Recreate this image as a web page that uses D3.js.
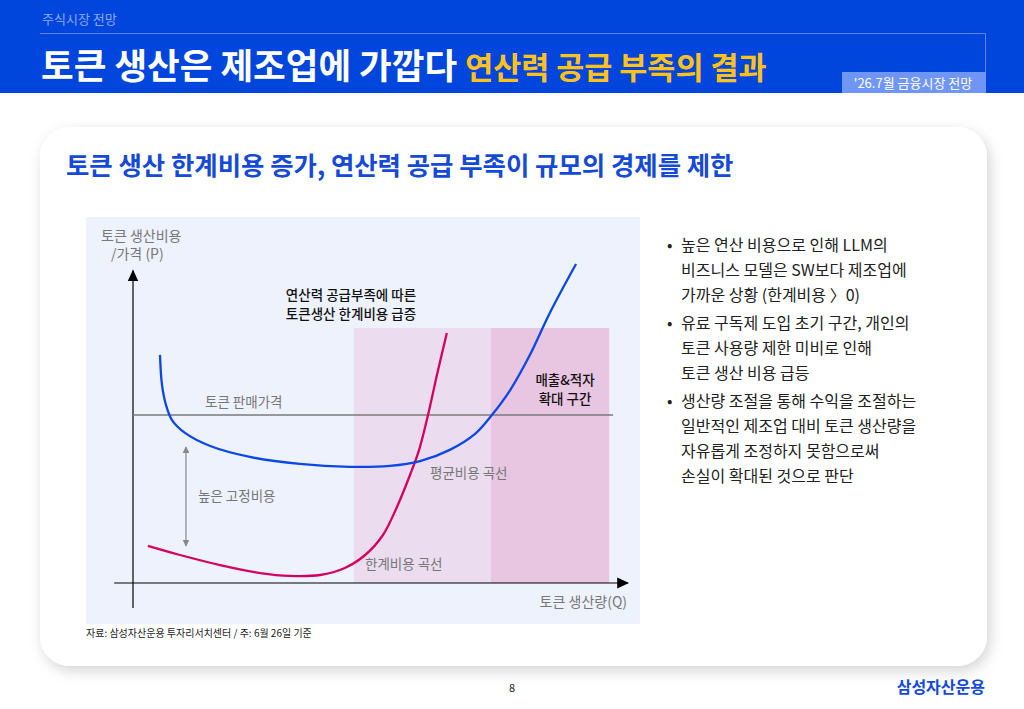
<!DOCTYPE html>
<html><head><meta charset="utf-8">
<script src="https://cdn.jsdelivr.net/npm/d3@7"></script>
<style>
html,body{margin:0;padding:0;background:#fff;}
svg{display:block;font-family:"Noto Sans CJK KR","Noto Sans",sans-serif;}
</style></head>
<body><svg id="c" width="1024" height="709"></svg>
<script>
// ---- data ----
const avgCost = [[5.45,71.3],[5.86,61.9],[6.67,55.6],[7.88,50.9],[10.5,46.9],[15.6,42.8],[23.6,39.4],[33.7,37.2],[43.8,36.3],[51.9,36.6],[58.0,38.1],[64.0,41.6],[69.1,46.6],[72.5,52.5],[76.2,60.3],[80.2,71.3],[84.2,84.4],[89.5,99.7]];
const marginalCost = [[3.0,11.6],[9.5,8.75],[17.6,5.6],[25.7,3.1],[31.7,2.2],[37.8,2.5],[42.8,4.7],[46.9,8.75],[50.5,15],[53.5,24.4],[55.96,33.75],[57.8,41.6],[59.6,52.5],[61.4,65],[63.4,78.1]];
const sellPrice = 52.5;
const zones = [{q0:44.6,q1:72.3,top:79.7},{q0:72.3,q1:96.2,top:79.7}];
const fixedCostArrow = {q:10.7,p0:42.5,p1:11.6};
const bullets = [
  ["높은 연산 비용으로 인해 LLM의","비즈니스 모델은 SW보다 제조업에","가까운 상황 (한계비용 〉0)"],
  ["유료 구독제 도입 초기 구간, 개인의","토큰 사용량 제한 미비로 인해","토큰 생산 비용 급등"],
  ["생산량 조절을 통해 수익을 조절하는","일반적인 제조업 대비 토큰 생산량을","자유롭게 조정하지 못함으로써","손실이 확대된 것으로 판단"]
];

const svg = d3.select("#c");
const defs = svg.append("defs");
const f = defs.append("filter").attr("id","sh").attr("x","-5%").attr("y","-5%").attr("width","112%").attr("height","115%");
f.append("feDropShadow").attr("dx",3).attr("dy",5).attr("stdDeviation",7).attr("flood-color","#000").attr("flood-opacity",0.17);
const mk = (id,col)=>defs.append("marker").attr("id",id).attr("viewBox","0 0 10 10").attr("refX",9).attr("refY",5)
  .attr("markerWidth",7).attr("markerHeight",7).attr("orient","auto-start-reverse").attr("markerUnits","userSpaceOnUse")
  .append("path").attr("d","M0,0L10,5L0,10z").attr("fill",col);
defs.append("marker").attr("id","ax").attr("viewBox","0 0 10 10").attr("refX",9).attr("refY",5)
  .attr("markerWidth",12).attr("markerHeight",12).attr("orient","auto").attr("markerUnits","userSpaceOnUse")
  .append("path").attr("d","M0,0.5L10,5L0,9.5z").attr("fill","#000");
mk("ga","#888");

// header
svg.append("rect").attr("x",0).attr("y",0).attr("width",1024).attr("height",93).attr("fill","#0046dd");
svg.append("text").attr("x",42).attr("y",24).attr("fill","#8ea9f2").attr("font-size",13).text("주식시장 전망");
svg.append("path").attr("d","M40,33.5H985.5V72").attr("fill","none").attr("stroke","#5a82f0").attr("stroke-width",1);
svg.append("rect").attr("x",842).attr("y",72).attr("width",144).attr("height",21).attr("fill","#6f95f5");
svg.append("text").attr("x",913).attr("y",88).attr("text-anchor","middle").attr("fill","#fff").attr("font-size",13).text("'26.7월 금융시장 전망");
const tt = svg.append("text").attr("x",41).attr("y",79).attr("font-weight",700);
tt.append("tspan").attr("fill","#fff").attr("font-size",35.5).text("토큰 생산은 제조업에 가깝다 ");
tt.append("tspan").attr("fill","#ffc21a").attr("font-size",30.5).text("연산력 공급 부족의 결과");

// card
svg.append("rect").attr("x",40).attr("y",127).attr("width",947).attr("height",539).attr("rx",30).attr("fill","#fff").attr("filter","url(#sh)");
svg.append("text").attr("x",66).attr("y",175).attr("fill","#1549d8").attr("font-size",25.4).attr("font-weight",700)
  .text("토큰 생산 한계비용 증가, 연산력 공급 부족이 규모의 경제를 제한");

// chart panel
svg.append("rect").attr("x",86).attr("y",217).attr("width",554).attr("height",407).attr("fill","#eef2fd");
const x = d3.scaleLinear().domain([0,100]).range([133,628]);
const y = d3.scaleLinear().domain([0,100]).range([583,263]);
const zc = ["#ecdcef","#e8c5e0"];
svg.selectAll(".z").data(zones).join("rect").attr("x",d=>x(d.q0)).attr("width",d=>x(d.q1)-x(d.q0))
  .attr("y",d=>y(d.top)).attr("height",d=>y(0)-y(d.top)).attr("fill",(d,i)=>zc[i]);

// axes
svg.append("line").attr("x1",x(-3.8)).attr("x2",x(100)).attr("y1",y(0)).attr("y2",y(0)).attr("stroke","#000").attr("stroke-width",1.2).attr("marker-end","url(#ax)");
svg.append("line").attr("x1",x(0)).attr("x2",x(0)).attr("y1",y(-7.8)).attr("y2",y(97.6)).attr("stroke","#000").attr("stroke-width",1.2).attr("marker-end","url(#ax)");
// price
svg.append("line").attr("x1",x(0)).attr("x2",x(97)).attr("y1",y(sellPrice)).attr("y2",y(sellPrice)).attr("stroke","#7a7a7a").attr("stroke-width",1.3);
// curves
const line = d3.line().x(d=>x(d[0])).y(d=>y(d[1])).curve(d3.curveCatmullRom.alpha(0.5));
svg.append("path").attr("d",line(marginalCost)).attr("fill","none").attr("stroke","#d4005f").attr("stroke-width",2.3);
svg.append("path").attr("d",line(avgCost)).attr("fill","none").attr("stroke","#0a48e6").attr("stroke-width",2.3);
// arrow
svg.append("line").attr("x1",x(fixedCostArrow.q)).attr("x2",x(fixedCostArrow.q)).attr("y1",y(fixedCostArrow.p0)).attr("y2",y(fixedCostArrow.p1))
  .attr("stroke","#888").attr("stroke-width",1.2).attr("marker-start","url(#ga)").attr("marker-end","url(#ga)");

// labels
const lab = (t,xx,yy,opt={})=>svg.append("text").attr("x",xx).attr("y",yy).attr("fill",opt.c||"#777").attr("font-size",opt.s||13.5)
  .attr("text-anchor",opt.a||"start").attr("font-weight",opt.w||400).text(t);
lab("토큰 생산비용",101,241,{s:14});
lab("/가격 (P)",111,259,{s:14});
lab("토큰 판매가격",205,407);
lab("높은 고정비용",198,501);
lab("평균비용 곡선",430,478);
lab("한계비용 곡선",365,569);
lab("토큰 생산량(Q)",627,607,{a:"end",s:14});
lab("연산력 공급부족에 따른",351,300,{a:"middle",c:"#111",w:500,s:13.5});
lab("토큰생산 한계비용 급증",351,319,{a:"middle",c:"#111",w:500,s:13.5});
lab("매출&적자",565,385,{a:"middle",c:"#111",w:500,s:13.5});
lab("확대 구간",565,404,{a:"middle",c:"#111",w:500,s:13.5});

// footnote
svg.append("text").attr("x",86).attr("y",637).attr("font-size",10).attr("fill","#222").text("자료: 삼성자산운용 투자리서치센터 / 주: 6월 26일 기준");

// bullets
let yy = 251;
bullets.forEach((b,bi)=>{
  svg.append("text").attr("x",667).attr("y",yy).attr("font-size",16).attr("fill","#222").text("•");
  b.forEach((l,li)=>{
    svg.append("text").attr("x",681).attr("y",yy).attr("font-size",16).attr("fill","#222").text(l);
    yy += 25;
  });
  yy += 3;
});

// footer
svg.append("text").attr("x",512).attr("y",692).attr("text-anchor","middle").attr("font-size",11).attr("fill","#222").text("8");
svg.append("text").attr("x",985).attr("y",693).attr("text-anchor","end").attr("font-size",16).attr("font-weight",700).attr("fill","#1549d8").text("삼성자산운용");
</script></body></html>
